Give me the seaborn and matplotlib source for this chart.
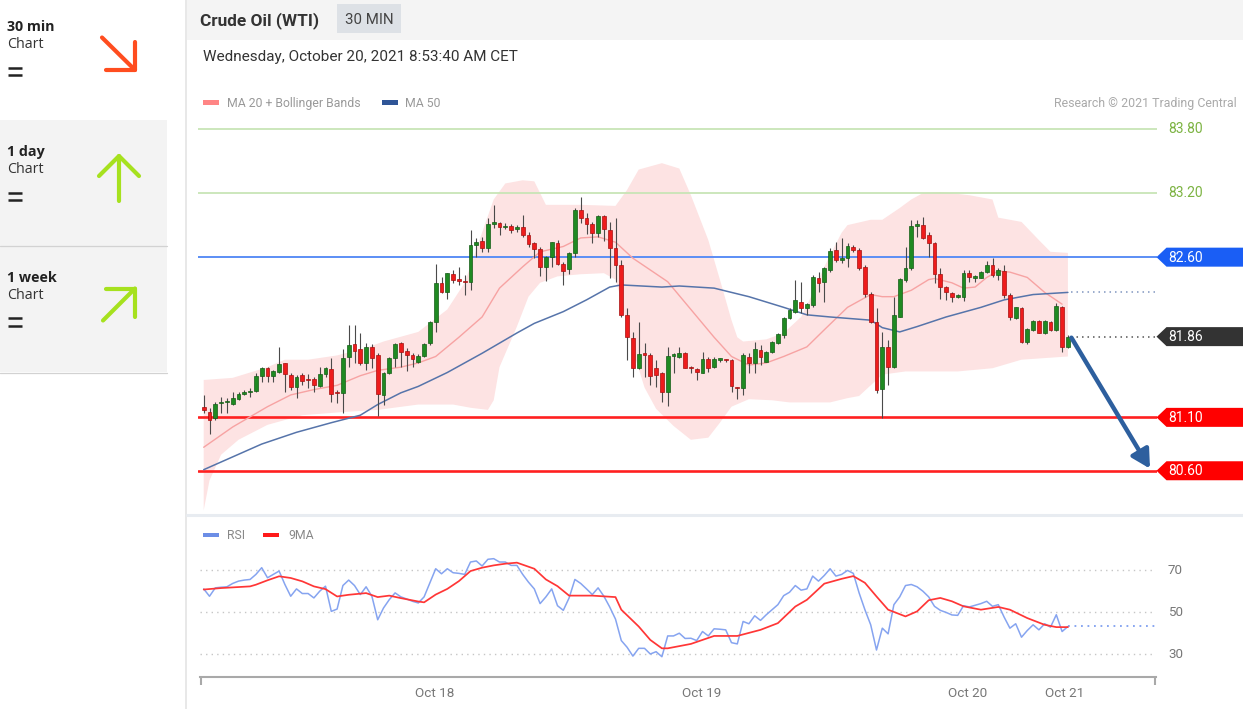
import numpy as np
import pandas as pd
import matplotlib
matplotlib.use("Agg")
import matplotlib.pyplot as plt
import seaborn as sns
from matplotlib.patches import Polygon, Rectangle

# ---------------- data (30 min candles, Crude Oil WTI) ----------------
opens = [81.201,81.148,81.091,81.232,81.240,81.226,81.272,81.319,81.335,81.347,
 81.488,81.566,81.491,81.528,81.606,81.497,81.388,81.497,81.450,81.460,
 81.397,81.506,81.550,81.341,81.332,81.669,81.784,81.737,81.606,81.762,
 81.684,81.310,81.513,81.653,81.793,81.725,81.684,81.622,81.675,81.793,
 81.996,82.355,82.277,82.442,82.399,82.380,82.371,82.714,82.754,82.683,
 82.907,82.923,82.879,82.892,82.860,82.885,82.807,82.729,82.673,82.511,
 82.598,82.729,82.533,82.486,82.636,83.041,82.963,82.910,82.823,82.988,
 82.854,82.683,82.527,82.059,81.840,81.559,81.700,81.684,81.559,81.513,
 81.335,81.675,81.669,81.706,81.575,81.553,81.519,81.644,81.575,81.641,
 81.636,81.638,81.388,81.372,81.669,81.606,81.731,81.622,81.715,81.800,
 81.871,82.027,82.090,82.183,82.121,82.152,82.408,82.371,82.480,82.667,
 82.573,82.589,82.698,82.667,82.505,82.255,81.996,81.363,81.762,81.575,
 82.043,82.386,82.495,82.892,82.901,82.807,82.736,82.442,82.318,82.268,
 82.230,82.224,82.455,82.408,82.408,82.464,82.527,82.433,82.470,82.246,
 82.027,82.121,81.809,81.918,82.006,81.887,81.996,81.918,82.137,81.762]
highs = [81.310,81.185,81.247,81.294,81.279,81.341,81.341,81.357,81.372,81.513,
 81.575,81.575,81.544,81.762,81.612,81.513,81.497,81.513,81.506,81.481,
 81.575,81.575,81.653,81.357,81.737,81.965,81.965,81.887,81.793,81.787,
 81.700,81.528,81.669,81.793,81.809,81.747,81.700,81.694,81.800,82.006,
 82.536,82.417,82.455,82.480,82.511,82.433,82.854,82.776,82.792,82.963,
 83.088,82.932,82.917,82.910,82.901,82.995,82.839,82.745,82.698,82.611,
 82.745,82.761,82.558,82.651,83.057,83.166,83.010,82.932,82.995,82.995,
 82.932,82.963,82.573,82.121,81.903,81.996,81.793,81.700,81.637,81.528,
 81.762,81.700,81.756,81.715,81.581,81.559,81.715,81.669,81.669,81.653,
 81.650,81.644,81.388,81.700,81.706,81.809,81.778,81.725,81.818,81.887,
 82.043,82.121,82.386,82.371,82.168,82.433,82.464,82.511,82.683,82.745,
 82.776,82.729,82.714,82.683,82.527,82.277,82.121,81.903,81.825,82.230,
 82.402,82.698,82.948,82.948,82.979,82.839,82.745,82.495,82.330,82.277,
 82.252,82.480,82.480,82.433,82.470,82.564,82.589,82.495,82.527,82.261,
 82.137,82.137,81.934,82.012,82.012,82.012,82.006,82.168,82.143,81.872]
lows = [81.138,80.942,81.076,81.138,81.138,81.216,81.263,81.310,81.294,81.341,
 81.435,81.435,81.435,81.513,81.341,81.357,81.279,81.403,81.372,81.341,
 81.388,81.481,81.247,81.238,81.138,81.575,81.606,81.591,81.544,81.559,
 81.113,81.216,81.506,81.575,81.569,81.537,81.575,81.606,81.669,81.778,
 81.903,82.261,82.205,82.355,82.339,82.246,82.293,82.605,82.651,82.651,
 82.870,82.807,82.860,82.823,82.839,82.792,82.698,82.589,82.424,82.380,
 82.511,82.527,82.339,82.442,82.605,82.917,82.817,82.736,82.792,82.754,
 82.402,82.371,82.043,81.637,81.481,81.550,81.481,81.403,81.388,81.247,
 81.207,81.513,81.653,81.559,81.513,81.450,81.513,81.528,81.559,81.622,
 81.619,81.341,81.269,81.310,81.513,81.519,81.591,81.622,81.706,81.787,
 81.840,82.018,82.074,82.074,82.059,82.137,82.277,82.183,82.464,82.558,
 82.542,82.511,82.651,82.480,82.230,81.981,81.325,81.091,81.403,81.559,
 82.037,82.371,82.480,82.792,82.767,82.605,82.355,82.205,82.199,82.183,
 82.215,82.190,82.371,82.371,82.402,82.455,82.417,82.386,82.215,82.012,
 82.018,81.793,81.787,81.912,81.887,81.881,81.912,81.912,81.715,81.747]
closes = [81.169,81.076,81.226,81.247,81.244,81.279,81.316,81.341,81.340,81.488,
 81.566,81.488,81.538,81.597,81.506,81.388,81.481,81.444,81.447,81.403,
 81.506,81.559,81.319,81.325,81.653,81.778,81.725,81.612,81.762,81.653,
 81.316,81.513,81.659,81.787,81.715,81.684,81.644,81.675,81.787,81.996,
 82.355,82.277,82.449,82.386,82.380,82.367,82.714,82.745,82.683,82.907,
 82.926,82.885,82.895,82.854,82.885,82.807,82.720,82.673,82.511,82.598,
 82.739,82.536,82.470,82.636,83.041,82.963,82.910,82.823,82.988,82.860,
 82.683,82.527,82.059,81.850,81.559,81.694,81.684,81.491,81.497,81.341,
 81.678,81.690,81.706,81.566,81.559,81.528,81.644,81.559,81.644,81.644,
 81.633,81.394,81.372,81.684,81.606,81.737,81.662,81.715,81.809,81.878,
 82.027,82.105,82.199,82.121,82.158,82.417,82.355,82.495,82.661,82.573,
 82.589,82.704,82.667,82.495,82.255,81.996,81.357,81.762,81.575,82.059,
 82.392,82.495,82.892,82.910,82.776,82.736,82.442,82.318,82.274,82.224,
 82.233,82.455,82.417,82.411,82.464,82.527,82.433,82.480,82.246,82.043,
 82.130,81.809,81.924,82.006,81.893,82.006,81.918,82.143,81.762,81.856]

# indicator readings (candle index, value)
ma20_idx = [0,5,11,15,19,23,27,30,34,37,40,44,48,51,55,58,62,65,68,71,74,80,84,88,91,94,97,100,104,107,
            111,115,117,119,122,125,126,129,131,133,135,137,139,142,145,148]
ma20_val = [80.82,81.01,81.20,81.31,81.36,81.40,81.49,81.54,81.57,81.61,81.67,81.85,82.04,82.31,82.51,82.65,
            82.70,82.78,82.79,82.74,82.59,82.37,82.11,81.85,81.67,81.59,81.61,81.67,81.76,81.92,82.13,82.25,
            82.23,82.23,82.29,82.39,82.40,82.36,82.31,82.32,82.41,82.47,82.46,82.41,82.27,82.16]
ma50_idx = [0,10,16,22,27,30,34,37,42,48,54,57,62,66,70,72,79,82,88,94,100,104,108,115,117,120,123,128,134,138,143,149]
ma50_val = [80.61,80.85,80.96,81.05,81.12,81.22,81.33,81.39,81.52,81.70,81.89,81.98,82.09,82.20,82.32,82.34,
            82.32,82.33,82.31,82.23,82.13,82.06,82.04,82.01,81.94,81.90,81.95,82.04,82.13,82.20,82.25,82.27]
bb_up_idx = [0,5,11,14,18,23,28,31,35,37,42,45,48,50,52,55,57,59,65,71,73,75,79,82,84,87,89,91,92,93,
             97,100,103,105,107,110,111,115,117,120,122,124,127,132,136,137,141,144,146,149]
bb_up_val = [81.45,81.47,81.57,81.64,81.64,81.68,81.75,81.81,81.87,81.90,82.11,82.36,82.83,83.14,83.29,83.32,
             83.31,83.09,83.09,83.08,83.23,83.42,83.48,83.43,83.18,82.76,82.39,82.01,81.85,81.81,81.83,81.89,
             82.04,82.26,82.51,82.83,82.90,82.95,82.95,83.06,83.14,83.20,83.21,83.18,83.14,82.97,82.93,82.76,
             82.65,82.64]
bb_lo_idx = [0,1,3,6,11,17,24,30,37,43,46,49,50,51,54,56,58,61,65,69,71,72,74,76,78,81,84,87,89,91,
             94,98,101,105,108,111,113,115,117,121,130,136,141,149]
bb_lo_val = [80.23,80.51,80.75,80.89,81.03,81.12,81.15,81.17,81.22,81.22,81.19,81.17,81.26,81.57,81.95,82.23,
             82.36,82.42,82.44,82.45,82.39,82.20,81.73,81.38,81.18,81.02,80.89,80.91,81.05,81.20,81.27,81.26,
             81.24,81.24,81.24,81.28,81.30,81.40,81.50,81.53,81.53,81.56,81.64,81.67]

rsi = [61.0,57.5,61.5,61.8,62.0,63.6,64.7,65.2,65.5,67.9,
 71.1,66.3,67.9,69.5,63.1,57.5,61.0,58.8,58.8,56.7,
 59.9,62.3,50.3,51.4,62.6,65.2,62.6,58.3,62.0,57.5,
 46.3,51.9,55.9,59.1,57.2,56.2,55.1,54.3,57.2,63.9,
 70.6,68.2,70.6,68.7,68.4,67.9,73.8,74.3,71.9,75.1,
 75.4,73.8,73.8,72.2,72.2,67.9,64.2,61.0,54.0,57.2,
 61.0,53.0,50.8,56.7,65.5,63.6,61.0,58.3,61.5,57.5,
 52.4,46.6,36.4,33.2,29.0,32.7,32.7,30.0,31.1,28.7,
 38.6,38.6,39.9,37.4,37.5,36.4,40.7,38.6,42.0,41.8,
 41.5,35.4,34.8,45.5,44.4,48.2,46.0,48.7,51.1,53.5,
 57.8,59.4,62.6,60.4,61.0,67.1,64.7,67.4,70.6,67.1,
 67.9,69.8,68.4,59.1,51.1,43.9,31.9,42.3,39.6,53.5,
 57.2,62.6,63.1,62.0,59.9,57.2,52.7,50.8,49.8,48.6,
 48.4,53.0,52.4,53.2,54.0,55.1,52.7,53.5,47.6,42.3,
 44.4,38.0,41.2,43.9,41.5,44.4,42.8,48.7,40.7,43.1]
ma9_idx = [0,3,8,9,11,13,15,17,19,21,23,25,28,30,32,34,37,38,40,42,44,46,48,50,52,54,57,59,61,63,
           67,71,72,75,77,79,80,84,86,88,92,96,99,102,104,107,110,112,114,116,118,121,123,125,127,129,
           131,134,137,139,142,145,147,149]
ma9_val = [60.7,61.4,62.2,63.0,65.1,67.0,66.2,64.6,62.2,60.9,57.4,58.2,59.0,57.1,57.8,56.6,55.0,54.6,58.3,
           61.0,64.7,69.5,71.1,72.2,73.0,73.5,70.6,65.5,62.3,57.8,57.8,57.1,51.1,43.1,36.7,32.7,32.7,34.8,
           36.7,38.6,38.6,41.5,44.7,52.6,55.8,63.5,65.8,67.1,63.9,57.4,51.1,47.9,50.3,55.6,56.7,55.1,52.7,
           51.1,52.4,51.1,47.1,43.9,42.8,42.8]

resistances = [83.80, 83.20]
pivot = 82.60
supports = [81.10, 80.60]
rsi_levels = [70, 50, 30]
date_labels = ["Oct 18", "Oct 19", "Oct 20", "Oct 21"]
date_pos = [39.9, 85.8, 131.7, 148.5]
side_titles = ["30 min", "1 day", "1 week"]

# ---------------- layout helpers ----------------
W, H = 1243, 709
X0, DX = 203.7, 5.8
P0, PY0, PPU = 83.80, 129.0, 106.8
R0, RY0, RPU = 50.0, 612.0, 2.1
def ix(px): return (px - X0) / DX
def pr(py): return P0 - (py - PY0) / PPU
def rs(py): return R0 - (py - RY0) / RPU

sns.set_theme(style="white")
plt.rcParams['font.family'] = ['Roboto', 'DejaVu Sans']

fig = plt.figure(figsize=(W / 100, H / 100), dpi=100)
fig.patch.set_facecolor('white')

def px_axes(l, t, r, b, z):
    a = fig.add_axes([l / W, 1 - b / H, (r - l) / W, (b - t) / H], zorder=z)
    a.set_facecolor('none')
    return a

# background overlay
bg = px_axes(0, 0, W, H, 0)
bg.set_xlim(0, W); bg.set_ylim(H, 0); bg.axis('off')
bg.add_patch(Rectangle((0, 120), 167, 252, fc='#f3f3f3', ec='none'))
bg.plot([0, 167], [245.5, 245.5], color='#d2d2d2', lw=0.9)
bg.plot([0, 167], [372.5, 372.5], color='#d2d2d2', lw=0.9)
bg.add_patch(Rectangle((187, 0), W - 187, 40, fc='#f4f4f4', ec='none'))
bg.plot([186, 186], [0, H], color='#e6e6e6', lw=1.3)
bg.plot([187, W], [515, 515], color='#e8ecf1', lw=2.2)

# sidebar
side_font = ['Open Sans', 'DejaVu Sans']
ys_title = [31, 156, 281.7]
for k, t in enumerate(side_titles):
    yb = ys_title[k]
    bg.text(7, yb, t, fontsize=10.3, fontweight='bold', color='#222', family=side_font, va='baseline')
    bg.text(7, yb + 17, "Chart", fontsize=10.3, color='#333', family=side_font, va='baseline')
    ye = yb + 36.5
    bg.plot([8.3, 21.7], [ye, ye], color='#222', lw=1.8, solid_capstyle='butt')
    bg.plot([8.3, 21.7], [ye + 7.4, ye + 7.4], color='#222', lw=1.8, solid_capstyle='butt')

def arrow_shape(segs, color):
    for s in segs:
        xs, ys = zip(*s)
        bg.plot(xs, ys, color=color, lw=3.0, solid_capstyle='round', solid_joinstyle='round')

arrow_shape([[(102, 37.5), (135, 70)], [(135, 42), (135, 70), (106, 70)]], '#ff4d1f')
arrow_shape([[(119, 201), (119, 156)], [(99, 176), (119, 156), (139, 176)]], '#a6e11e')
arrow_shape([[(103, 320.5), (135, 288.5)], [(106, 288.5), (135, 288.5), (135, 317)]], '#a6e11e')

# ---------------- price panel ----------------
n = len(closes)
x = np.arange(n)
o = np.array(opens); c = np.array(closes); hi = np.array(highs); lo = np.array(lows)

ax = px_axes(198, 120, 1157, 512, 2)
ax.fill(bb_up_idx + bb_lo_idx[::-1], bb_up_val + bb_lo_val[::-1], color='#fde3e3', lw=0, zorder=1)
for lv in resistances:
    ax.axhline(lv, color='#c8e5b6', lw=1.3, zorder=2)
ax.axhline(pivot, color='#5b8ef5', lw=1.4, zorder=2)
for lv in supports:
    ax.axhline(lv, color='#ff2020', lw=1.9, zorder=2)

sns.lineplot(x=ma20_idx, y=ma20_val, ax=ax, color='#f7a3a3', lw=1.0, zorder=3)
sns.lineplot(x=ma50_idx, y=ma50_val, ax=ax, color='#5674aa', lw=1.1, zorder=3)

ax.vlines(x, lo, hi, color='#4a4a4a', lw=0.8, zorder=4)
up = c >= o
body = np.maximum(np.abs(c - o), 0.012)
ax.bar(x[up], body[up], bottom=o[up], width=0.64, color='#1f8a22', edgecolor='#145c16', lw=0.5, zorder=5)
ax.bar(x[~up], body[~up], bottom=c[~up], width=0.64, color='#ee1c1c', edgecolor='#a50f0f', lw=0.5, zorder=5)

ax.hlines(c[-1], n - 1 + 0.6, ix(1155), colors='#555555', linestyles=(0, (1, 2.6)), lw=1.1, zorder=3)
ax.hlines(ma50_val[-1], n - 1 + 0.6, ix(1155), colors='#8096c0', linestyles=(0, (1, 2.6)), lw=1.1, zorder=3)

ax.set_xlim(ix(198), ix(1157))
ax.set_ylim(pr(512), pr(120))
ax.axis('off')

ax.annotate('', xy=(ix(1150), supports[-1] + 0.02), xytext=(n - 1 + 0.6, c[-1] - 0.01),
            arrowprops=dict(arrowstyle='-|>,head_length=1.1,head_width=0.6', color='#2d5f9e',
                            lw=3.2, shrinkA=0, shrinkB=0, mutation_scale=10),
            annotation_clip=False, zorder=6)

# ---------------- RSI panel ----------------
ax2 = px_axes(200, 545, 1156, 677, 2)
for lv in rsi_levels:
    ax2.axhline(lv, color='#c6c6c6', ls=(0, (1, 3)), lw=1.0, zorder=1)
sns.lineplot(x=x, y=rsi, ax=ax2, color='#86a4f0', lw=1.1, zorder=3)
sns.lineplot(x=ma9_idx, y=ma9_val, ax=ax2, color='#ff3636', lw=1.25, zorder=4)
ax2.hlines(rsi[-1], n - 1, ix(1155), colors='#7f9ff0', linestyles=(0, (1, 2.6)), lw=1.3, zorder=3)
ax2.set_xlim(ix(200), ix(1156))
ax2.set_ylim(rs(677), rs(545))
for s in ['top', 'right', 'left']:
    ax2.spines[s].set_visible(False)
ax2.spines['bottom'].set_color('#a9a9a9')
ax2.spines['bottom'].set_linewidth(1.5)
ax2.set_yticks([])
ax2.set_xticks(date_pos)
ax2.set_xticklabels(date_labels)
ax2.tick_params(axis='x', which='major', bottom=True, length=0, pad=7.5, labelsize=9.7, labelcolor='#777777')
ax2.set_xticks([ix(200) + 0.1, ix(1156) - 0.1], minor=True)
ax2.tick_params(axis='x', which='minor', bottom=True, length=5.5, width=1.5, color='#a9a9a9', direction='out')
ax2.set_xlabel(''); ax2.set_ylabel('')

# ---------------- foreground overlay (texts, tags) ----------------
fg = px_axes(0, 0, W, H, 10)
fg.set_xlim(0, W); fg.set_ylim(H, 0); fg.axis('off')

def ypix(a, v):
    return H - a.transData.transform((0, v))[1]

fg.text(200, 25.5, "Crude Oil (WTI)", fontsize=12.4, fontweight='bold', color='#333333', va='baseline')
fg.add_patch(Rectangle((337.3, 4), 63.4, 29.3, fc='#dde1e6', ec='none'))
fg.text(369, 24, "30 MIN", fontsize=10.8, color='#444444', ha='center', va='baseline')
fg.text(202.7, 61, "Wednesday, October 20, 2021 8:53:40 AM CET", fontsize=11, color='#333333', va='baseline')

fg.add_patch(Rectangle((203.3, 100), 16, 5, fc='#ff8585', ec='none'))
fg.text(227.3, 107.3, "MA 20 + Bollinger Bands", fontsize=8.8, color='#999999', va='baseline')
fg.add_patch(Rectangle((381.7, 100), 16, 5, fc='#2f5597', ec='none'))
fg.text(405, 107.3, "MA 50", fontsize=8.8, color='#999999', va='baseline')
fg.text(1237, 107.3, "Research \u00a9 2021 Trading Central", fontsize=8.9, color='#aaaaaa', ha='right', va='baseline')

for lv in resistances:
    fg.text(1168, ypix(ax, lv), f"{lv:.2f}", fontsize=10, color='#7cb342', va='center')

def tag(v, color, label):
    py = ypix(ax, v)
    fg.add_patch(Polygon([(1156.5, py), (1166.5, py - 9.5), (W + 2, py - 9.5), (W + 2, py + 9.5),
                          (1166.5, py + 9.5)], closed=True, fc=color, ec='none'))
    fg.text(1168, py + 0.5, label, fontsize=10, color='white', va='center')

tag(pivot, '#1a5ef5', f"{pivot:.2f}")
tag(c[-1], '#333333', f"{c[-1]:.2f}")
for lv in supports:
    tag(lv, '#ff0000', f"{lv:.2f}")

fg.add_patch(Rectangle((203.3, 532.5), 16, 4.5, fc='#6c8ee6', ec='none'))
fg.text(227, 539.3, "RSI", fontsize=8.8, color='#888888', va='baseline')
fg.add_patch(Rectangle((263.3, 532.5), 16, 4.5, fc='#ff1a1a', ec='none'))
fg.text(288, 539.3, "9MA", fontsize=8.8, color='#888888', va='baseline')
for lv in rsi_levels:
    fg.text(1168, ypix(ax2, lv), f"{lv}", fontsize=9.6, color='#777777', va='center')

fig.savefig('out.png', dpi=100, facecolor='white')
